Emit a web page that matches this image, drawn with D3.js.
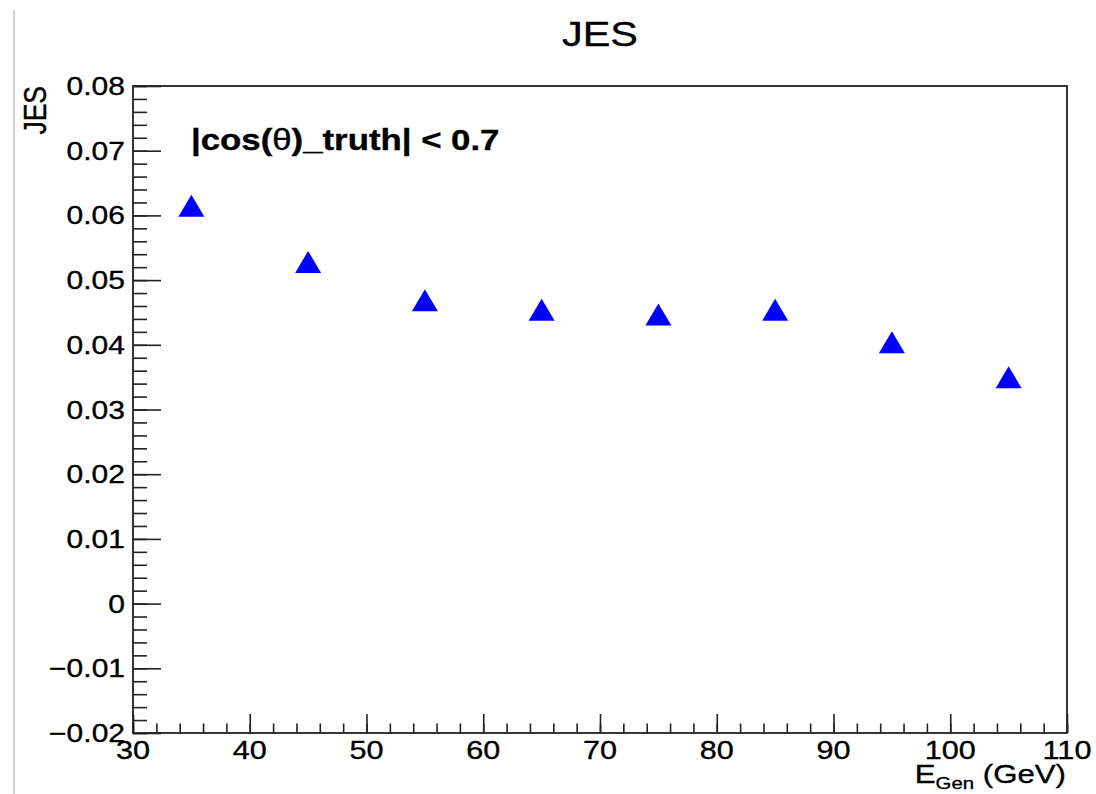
<!DOCTYPE html>
<html>
<head>
<meta charset="utf-8">
<script src="https://cdn.jsdelivr.net/npm/d3@7"></script>
<style>
  html, body { margin: 0; padding: 0; background: #fff; }
  svg { display: block; }
  text { font-family: "Liberation Sans", Arial, Helvetica, sans-serif; fill: #000; stroke: #000; stroke-width: 0.35px; }
</style>
</head>
<body>
<svg id="chart" width="1096" height="794"></svg>
<script>
// Jet energy scale per generated-energy bin
const energyBins = [35, 45, 55, 65, 75, 85, 95, 105];
const jesValues = [0.0615, 0.0528, 0.0469, 0.0454, 0.0447, 0.0454, 0.0404, 0.0350];
const xTickValues = [30, 40, 50, 60, 70, 80, 90, 100, 110];
const yTickValues = [-0.02, -0.01, 0, 0.01, 0.02, 0.03, 0.04, 0.05, 0.06, 0.07, 0.08];
const titleText = "JES";
const yTitleText = "JES";
const cutLabel = ["|cos(", "θ", ")_truth| < 0.7"];

const W = 1096, H = 794;
const margin = { left: 133, right: 1096 - 1067, top: 86, bottom: 794 - 733 };
const SX = 1.2; // horizontal text stretch of the canvas

const svg = d3.select("#chart");

const x = d3.scaleLinear().domain([30, 110]).range([margin.left, W - margin.right]);
const y = d3.scaleLinear().domain([-0.02, 0.08]).range([H - margin.bottom, margin.top]);

// light page edge on the left
svg.append("line")
  .attr("x1", 14).attr("x2", 14).attr("y1", 10).attr("y2", H)
  .attr("stroke", "#d4d4d4").attr("stroke-width", 2);

// frame
svg.append("rect")
  .attr("x", x(30)).attr("y", y(0.08))
  .attr("width", x(110) - x(30)).attr("height", y(-0.02) - y(0.08))
  .attr("fill", "none").attr("stroke", "#222").attr("stroke-width", 1.8);

// x axis ticks
const xMinor = d3.range(30, 110.001, 2);
svg.append("g").attr("transform", `translate(0,${y(-0.02)})`)
  .call(d3.axisBottom(x).tickValues(xMinor).tickSize(-9.5).tickFormat(""))
  .call(g => g.select(".domain").remove())
  .call(g => g.selectAll("line").attr("stroke", "#222").attr("stroke-width", 1.6));
svg.append("g").attr("transform", `translate(0,${y(-0.02)})`)
  .call(d3.axisBottom(x).tickValues(xTickValues).tickSize(-19).tickFormat(""))
  .call(g => g.select(".domain").remove())
  .call(g => g.selectAll("line").attr("stroke", "#222").attr("stroke-width", 1.6));

// y axis ticks
const yMinor = d3.range(-0.02, 0.08001, 0.002);
svg.append("g").attr("transform", `translate(${x(30)},0)`)
  .call(d3.axisLeft(y).tickValues(yMinor).tickSize(-14).tickFormat(""))
  .call(g => g.select(".domain").remove())
  .call(g => g.selectAll("line").attr("stroke", "#222").attr("stroke-width", 1.6));
svg.append("g").attr("transform", `translate(${x(30)},0)`)
  .call(d3.axisLeft(y).tickValues(yTickValues).tickSize(-28).tickFormat(""))
  .call(g => g.select(".domain").remove())
  .call(g => g.selectAll("line").attr("stroke", "#222").attr("stroke-width", 1.6));

// tick labels
const fmtY = d => d === 0 ? "0" : d3.format(".2f")(d).replace("-", "\u2212");
svg.append("g").selectAll("g").data(yTickValues).join("g")
  .attr("transform", d => `translate(125,${y(d)}) scale(${SX},1)`)
  .append("text")
  .attr("text-anchor", "end").attr("dy", "0.36em")
  .attr("font-size", 25)
  .text(fmtY);

svg.append("g").selectAll("g").data(xTickValues).join("g")
  .attr("transform", d => `translate(${x(d)},759) scale(${SX},1)`)
  .append("text")
  .attr("text-anchor", "middle")
  .attr("font-size", 25.5)
  .text(d => d);

// title
svg.append("g").attr("transform", `translate(${(x(30) + x(110)) / 2},46) scale(${SX},1)`)
  .append("text").attr("text-anchor", "middle").attr("font-size", 34.5)
  .text(titleText);

// y axis title
svg.append("g").attr("transform", `translate(46,86) scale(${SX},1) rotate(-90)`)
  .append("text").attr("text-anchor", "end").attr("font-size", 26.5)
  .text(yTitleText);

// x axis title
const xt = svg.append("g").attr("transform", `translate(1066,783) scale(${SX},1)`)
  .append("text").attr("text-anchor", "end").attr("font-size", 26);
xt.append("tspan").text("E");
xt.append("tspan").attr("font-size", 17).attr("dy", 6).text("Gen");
xt.append("tspan").attr("dy", -6).text(" (GeV)");

// selection label
const lbl = svg.append("g").attr("transform", `translate(191,150) scale(${SX},1)`)
  .append("text").attr("font-size", 29).attr("font-weight", "bold");
lbl.append("tspan").text(cutLabel[0]);
lbl.append("tspan").attr("font-weight", "normal").text(cutLabel[1]);
lbl.append("tspan").text(cutLabel[2]);

// markers: filled upward triangles
const tri = (cx, cy) => {
  const hw = 13, hh = 11;
  return `M${cx - hw},${cy + hh}L${cx + hw},${cy + hh}L${cx},${cy - hh}Z`;
};
svg.append("g").selectAll("path")
  .data(energyBins.map((e, i) => [e, jesValues[i]]))
  .join("path")
  .attr("d", d => tri(x(d[0]), y(d[1])))
  .attr("fill", "#0000ff");
</script>
</body>
</html>
